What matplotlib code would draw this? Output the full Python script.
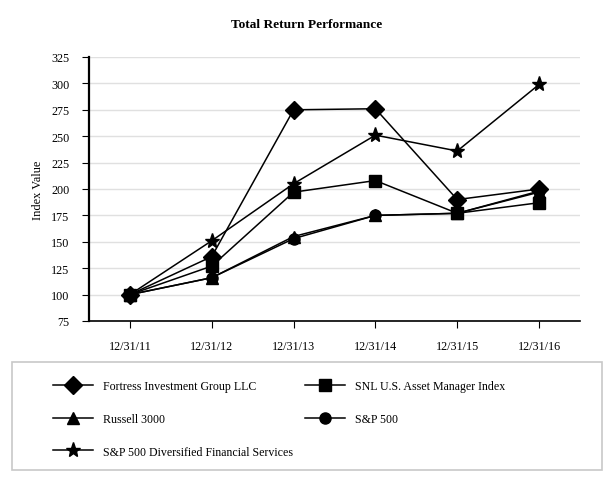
import matplotlib
matplotlib.use("Agg")
import matplotlib.pyplot as plt
from matplotlib.patches import Rectangle

plt.rcParams['font.family'] = ['Liberation Serif', 'DejaVu Serif']

# data
dates = ['12/31/11', '12/31/12', '12/31/13', '12/31/14', '12/31/15', '12/31/16']
fortress = [100, 136, 275, 276, 190, 200]
snl = [100, 127, 197, 208, 177, 187]
russell = [100, 116, 155, 175, 177, 197]
sp500 = [100, 116, 153, 175, 177, 198]
sp_divfin = [100, 151, 205, 251, 236, 299]

W, H = 613, 485
fig = plt.figure(figsize=(W / 100, H / 100), dpi=100)
ax = fig.add_axes([89 / W, 1 - 322 / H, 491 / W, 264 / H])

x = list(range(len(dates)))
h_sp, = ax.plot(x, sp500, color='black', lw=1.1, marker='o', ms=8, label='S&P 500')
h_ru, = ax.plot(x, russell, color='black', lw=1.1, marker='^', ms=8, label='Russell 3000')
h_snl, = ax.plot(x, snl, color='black', lw=1.1, marker='s', ms=8, label='SNL U.S. Asset Manager Index')
h_div, = ax.plot(x, sp_divfin, color='black', lw=1.1, marker='*', ms=11, label='S&P 500 Diversified Financial Services')
h_fo, = ax.plot(x, fortress, color='black', lw=1.1, marker='D', ms=9, label='Fortress Investment Group LLC')

ax.set_xlim(-0.5, 5.5)
ax.set_ylim(75, 325)
ax.set_yticks(range(75, 326, 25))
ax.set_xticks(x)
ax.set_xticklabels(dates)
ax.tick_params(labelsize=8.7, length=5, color='black')
ax.tick_params(axis='y', pad=9)
ax.tick_params(axis='x', pad=9)
ax.yaxis.grid(True, color='#e0e0e0', lw=1)
ax.set_axisbelow(True)
for s in ['top', 'right']:
    ax.spines[s].set_visible(False)
ax.spines['left'].set_linewidth(1.6)
ax.spines['bottom'].set_linewidth(1.2)
ax.set_ylabel('Index Value', fontsize=8.9, labelpad=5)

fig.text(0.5, 1 - 25 / H, 'Total Return Performance', ha='center', va='center',
         fontsize=9.6, fontweight='bold')

# legend box
fig.patches.append(Rectangle((12 / W, 1 - 471 / H), 590 / W, 108 / H,
                             transform=fig.transFigure, fill=False,
                             edgecolor='#c8c8c8', lw=1.2))

leg_kw = dict(loc='upper left', frameon=False, fontsize=8.6, handlelength=3.35,
              handletextpad=0.84, labelspacing=1.74, borderpad=0, borderaxespad=0)
col1 = [h_fo, h_ru, h_div]
col2 = [h_snl, h_sp]
leg1 = fig.legend(handles=col1, labels=[h.get_label() for h in col1],
                  bbox_to_anchor=(53 / W, 1 - 381 / H), **leg_kw)
leg2 = fig.legend(handles=col2, labels=[h.get_label() for h in col2],
                  bbox_to_anchor=(305 / W, 1 - 381 / H), **leg_kw)

fig.savefig('out.png', dpi=100)
